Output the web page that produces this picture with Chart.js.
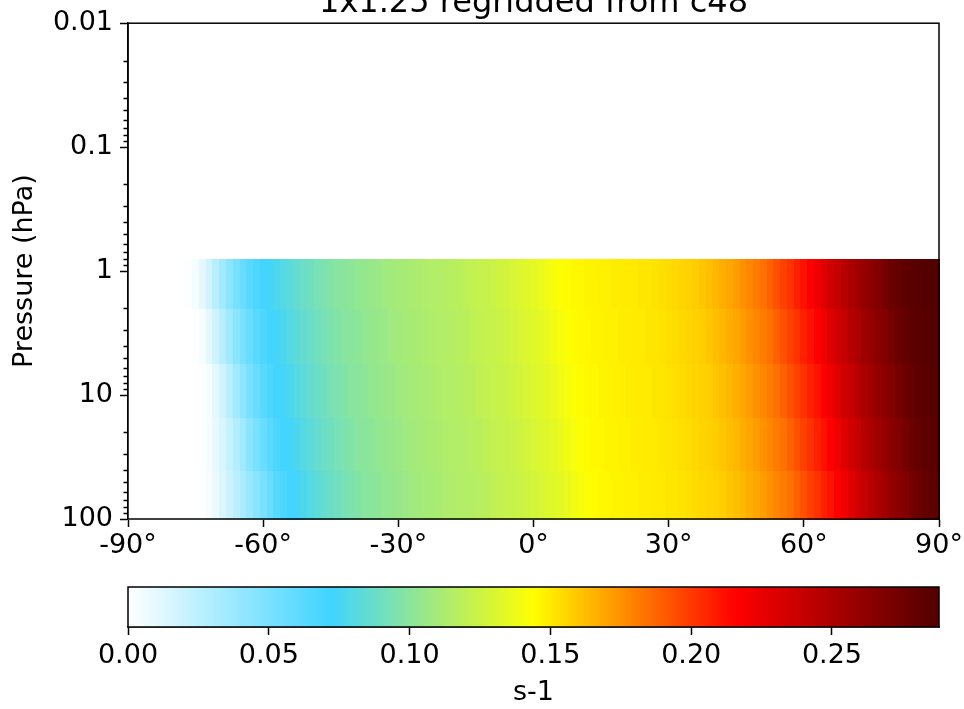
<!DOCTYPE html>
<html>
<head>
<meta charset="utf-8">
<script src="https://cdn.jsdelivr.net/npm/chart.js@4.4.0/dist/chart.umd.min.js"></script>
<style>
  html, body { margin: 0; padding: 0; background: #fff; overflow: hidden; }
  #wrap { position: relative; width: 964px; height: 709px; overflow: hidden; background: #fff; }
  #title { position: absolute; left: 0; width: 1067px; top: -18px; text-align: center;
           font-family: "DejaVu Sans"; font-size: 32px; color: #000; white-space: nowrap; }
  #mainBox { position: absolute; left: 0; top: 0; width: 990px; height: 580px; }
  #barBox { position: absolute; left: 0; top: 564px; width: 964px; height: 149px; }
</style>
</head>
<body>
<div id="wrap">
  <div id="mainBox"><canvas id="mainChart" width="990" height="580"></canvas></div>
  <div id="barBox"><canvas id="barChart" width="964" height="149"></canvas></div>
  <div id="title">1x1.25 regridded from c48</div>
</div>
<script>
// latitude cell centres (deg) and pressure band edges (hPa, bottom to top)
const latCenters = [-90, -88.5, -87, -85.5, -84, -82.5, -81, -79.5, -78, -76.5,
  -75, -73.5, -72, -70.5, -69, -67.5, -66, -64.5, -63, -61.5,
  -60, -58.5, -57, -55.5, -54, -52.5, -51, -49.5, -48, -46.5,
  -45, -43.5, -42, -40.5, -39, -37.5, -36, -34.5, -33, -31.5,
  -30, -28.5, -27, -25.5, -24, -22.5, -21, -19.5, -18, -16.5,
  -15, -13.5, -12, -10.5, -9, -7.5, -6, -4.5, -3, -1.5,
  0, 1.5, 3, 4.5, 6, 7.5, 9, 10.5, 12, 13.5,
  15, 16.5, 18, 19.5, 21, 22.5, 24, 25.5, 27, 28.5,
  30, 31.5, 33, 34.5, 36, 37.5, 39, 40.5, 42, 43.5,
  45, 46.5, 48, 49.5, 51, 52.5, 54, 55.5, 57, 58.5,
  60, 61.5, 63, 64.5, 66, 67.5, 69, 70.5, 72, 73.5,
  75, 76.5, 78, 79.5, 81, 82.5, 84, 85.5, 87, 88.5, 90];
const pressureEdges = [100, 40, 15, 5.5, 2, 0.8];

// rate (s-1) per latitude cell, one list per pressure band
const band100to40 = [0, 0, 0, 0, 0, 0, 0, 0, 0, 0,
  0, 0.001, 0.003, 0.008, 0.014, 0.020, 0.026, 0.032, 0.039, 0.045,
  0.051, 0.057, 0.063, 0.067, 0.071, 0.074, 0.077, 0.080, 0.083, 0.086,
  0.088, 0.091, 0.093, 0.095, 0.097, 0.099, 0.100, 0.101, 0.103, 0.104,
  0.105, 0.106, 0.108, 0.109, 0.110, 0.111, 0.112, 0.113, 0.114, 0.115,
  0.115, 0.116, 0.117, 0.118, 0.120, 0.121, 0.122, 0.123, 0.124, 0.126,
  0.127, 0.129, 0.131, 0.132, 0.134, 0.136, 0.139, 0.141, 0.143, 0.145,
  0.146, 0.146, 0.147, 0.147, 0.148, 0.148, 0.149, 0.149, 0.150, 0.150,
  0.151, 0.151, 0.152, 0.153, 0.154, 0.155, 0.156, 0.157, 0.158, 0.160,
  0.162, 0.164, 0.167, 0.169, 0.172, 0.175, 0.178, 0.181, 0.184, 0.189,
  0.193, 0.198, 0.202, 0.207, 0.211, 0.216, 0.222, 0.229, 0.235, 0.240,
  0.246, 0.251, 0.256, 0.260, 0.264, 0.268, 0.273, 0.277, 0.280, 0.282, 0.284];
const band40to15 = [0, 0, 0, 0, 0, 0, 0, 0, 0, 0,
  0, 0.001, 0.004, 0.009, 0.015, 0.022, 0.029, 0.036, 0.044, 0.051,
  0.057, 0.063, 0.067, 0.071, 0.074, 0.077, 0.080, 0.083, 0.086, 0.088,
  0.091, 0.093, 0.095, 0.097, 0.099, 0.100, 0.101, 0.103, 0.104, 0.105,
  0.106, 0.108, 0.109, 0.110, 0.111, 0.112, 0.113, 0.114, 0.115, 0.115,
  0.116, 0.117, 0.118, 0.120, 0.121, 0.122, 0.123, 0.124, 0.126, 0.127,
  0.129, 0.131, 0.132, 0.134, 0.136, 0.139, 0.141, 0.143, 0.145, 0.146,
  0.146, 0.147, 0.147, 0.148, 0.148, 0.149, 0.149, 0.150, 0.150, 0.151,
  0.151, 0.152, 0.153, 0.154, 0.155, 0.156, 0.157, 0.158, 0.160, 0.162,
  0.164, 0.167, 0.169, 0.172, 0.175, 0.178, 0.181, 0.184, 0.189, 0.193,
  0.198, 0.202, 0.207, 0.211, 0.216, 0.222, 0.229, 0.235, 0.240, 0.246,
  0.251, 0.256, 0.260, 0.264, 0.268, 0.273, 0.277, 0.280, 0.282, 0.284, 0.285];
const band15to5 = [0, 0, 0, 0, 0, 0, 0, 0, 0, 0,
  0, 0.001, 0.004, 0.010, 0.018, 0.027, 0.036, 0.044, 0.051, 0.057,
  0.063, 0.067, 0.071, 0.074, 0.077, 0.080, 0.083, 0.086, 0.088, 0.091,
  0.093, 0.095, 0.097, 0.099, 0.100, 0.101, 0.103, 0.104, 0.105, 0.106,
  0.108, 0.109, 0.110, 0.111, 0.112, 0.113, 0.114, 0.115, 0.115, 0.116,
  0.117, 0.118, 0.120, 0.121, 0.122, 0.123, 0.124, 0.126, 0.127, 0.129,
  0.131, 0.132, 0.134, 0.136, 0.139, 0.141, 0.143, 0.145, 0.146, 0.146,
  0.147, 0.147, 0.148, 0.148, 0.149, 0.149, 0.150, 0.150, 0.151, 0.151,
  0.152, 0.153, 0.154, 0.155, 0.156, 0.157, 0.158, 0.160, 0.162, 0.164,
  0.167, 0.169, 0.172, 0.175, 0.178, 0.181, 0.184, 0.189, 0.193, 0.198,
  0.202, 0.207, 0.211, 0.216, 0.222, 0.229, 0.235, 0.240, 0.246, 0.251,
  0.256, 0.260, 0.264, 0.268, 0.273, 0.277, 0.280, 0.282, 0.284, 0.285, 0.286];
const band5to2 = [0, 0, 0, 0, 0, 0, 0, 0, 0, 0,
  0.001, 0.004, 0.010, 0.018, 0.027, 0.036, 0.044, 0.051, 0.057, 0.063,
  0.067, 0.071, 0.074, 0.077, 0.080, 0.083, 0.086, 0.088, 0.091, 0.093,
  0.095, 0.097, 0.099, 0.100, 0.101, 0.103, 0.104, 0.105, 0.106, 0.108,
  0.109, 0.110, 0.111, 0.112, 0.113, 0.114, 0.115, 0.115, 0.116, 0.117,
  0.118, 0.120, 0.121, 0.122, 0.123, 0.124, 0.126, 0.127, 0.129, 0.131,
  0.132, 0.134, 0.136, 0.139, 0.141, 0.143, 0.145, 0.146, 0.146, 0.147,
  0.147, 0.148, 0.148, 0.149, 0.149, 0.150, 0.150, 0.151, 0.151, 0.152,
  0.153, 0.154, 0.155, 0.156, 0.157, 0.158, 0.160, 0.162, 0.164, 0.167,
  0.169, 0.172, 0.175, 0.178, 0.181, 0.184, 0.189, 0.193, 0.198, 0.202,
  0.207, 0.211, 0.216, 0.222, 0.229, 0.235, 0.240, 0.246, 0.251, 0.256,
  0.260, 0.264, 0.268, 0.273, 0.277, 0.280, 0.282, 0.284, 0.285, 0.286, 0.287];
const band2to08 = [0, 0, 0, 0, 0, 0, 0, 0, 0, 0.001,
  0.004, 0.010, 0.018, 0.027, 0.036, 0.044, 0.051, 0.057, 0.063, 0.067,
  0.071, 0.074, 0.077, 0.080, 0.083, 0.086, 0.088, 0.091, 0.093, 0.095,
  0.097, 0.099, 0.100, 0.101, 0.103, 0.104, 0.105, 0.106, 0.108, 0.109,
  0.110, 0.111, 0.112, 0.113, 0.114, 0.115, 0.115, 0.116, 0.117, 0.118,
  0.120, 0.121, 0.122, 0.123, 0.124, 0.126, 0.127, 0.129, 0.131, 0.132,
  0.134, 0.136, 0.139, 0.141, 0.143, 0.145, 0.146, 0.146, 0.147, 0.147,
  0.148, 0.148, 0.149, 0.149, 0.150, 0.150, 0.151, 0.151, 0.152, 0.153,
  0.154, 0.155, 0.156, 0.157, 0.158, 0.160, 0.162, 0.164, 0.167, 0.169,
  0.172, 0.175, 0.178, 0.181, 0.184, 0.189, 0.193, 0.198, 0.202, 0.207,
  0.211, 0.216, 0.222, 0.229, 0.235, 0.240, 0.246, 0.251, 0.256, 0.260,
  0.264, 0.268, 0.273, 0.277, 0.280, 0.282, 0.284, 0.285, 0.286, 0.287, 0.288];
const bands = [band100to40, band40to15, band15to5, band5to2, band2to08];

// axis ticks
const latTicks = [-90, -60, -30, 0, 30, 60, 90];
const pressureTicks = [0.01, 0.1, 1, 10, 100];
const pressureTickLabels = ['0.01', '0.1', '1', '10', '100'];
const colorbarTicks = [0, 0.05, 0.10, 0.15, 0.20, 0.25];
const colorbarMax = 0.288;

// colormap
const cmapStops = [0, 0.072, 0.144, 0.216, 0.288];
const cmapColors = [[255, 255, 255], [64, 212, 255], [255, 255, 0], [255, 0, 0], [80, 0, 0]];

function colorFor(v) {
    if (v <= cmapStops[0]) return 'rgb(' + cmapColors[0].join(',') + ')';
    for (let i = 1; i < cmapStops.length; i++) {
        if (v <= cmapStops[i]) {
            const t = (v - cmapStops[i - 1]) / (cmapStops[i] - cmapStops[i - 1]);
            const a = cmapColors[i - 1], b = cmapColors[i];
            return 'rgb(' + [0, 1, 2].map(c => Math.round(a[c] + (b[c] - a[c]) * t)).join(',') + ')';
        }
    }
    return 'rgb(' + cmapColors[cmapColors.length - 1].join(',') + ')';
}

// cell edges halfway between centres, clipped to the axis range
const latEdges = [-90];
for (let k = 1; k < latCenters.length; k++) latEdges.push((latCenters[k - 1] + latCenters[k]) / 2);
latEdges.push(90);

const minorPressure = [];
pressureTicks.slice(0, -1).forEach(d => {
    for (let m = 2; m <= 9; m++) minorPressure.push(d * m);
});

Chart.defaults.font.family = 'DejaVu Sans';
Chart.defaults.color = '#000';

const tickFont = { size: 27 };
const axisColor = '#000';

// cell centres kept as the dataset (points hidden, cells drawn by the plugin)
const cells = [];
bands.forEach((row, r) => {
    row.forEach((v, k) => {
        cells.push({ x: latCenters[k], y: Math.sqrt(pressureEdges[r] * pressureEdges[r + 1]), v: v });
    });
});

const heatmapPlugin = {
    id: 'heatmap',
    beforeDatasetsDraw(chart) {
        const { ctx, scales: { x, y } } = chart;
        ctx.save();
        bands.forEach((row, r) => {
            const yA = y.getPixelForValue(pressureEdges[r]);
            const yB = y.getPixelForValue(pressureEdges[r + 1]);
            const top = Math.round(Math.min(yA, yB));
            const bottom = Math.round(Math.max(yA, yB));
            row.forEach((v, k) => {
                const xA = Math.round(x.getPixelForValue(latEdges[k]));
                const xB = Math.round(x.getPixelForValue(latEdges[k + 1]));
                ctx.fillStyle = colorFor(v);
                ctx.fillRect(xA, top, xB - xA + 1, bottom - top + 1);
            });
        });
        ctx.restore();
    },
    afterDraw(chart) {
        const { ctx, chartArea: a, scales: { y } } = chart;
        ctx.save();
        ctx.strokeStyle = axisColor;
        ctx.lineWidth = 1.5;
        ctx.beginPath();
        minorPressure.forEach(p => {
            const py = Math.round(y.getPixelForValue(p)) + 0.5;
            ctx.moveTo(a.left - 4.5, py);
            ctx.lineTo(a.left, py);
        });
        ctx.stroke();
        ctx.strokeRect(a.left, a.top, a.right - a.left, a.bottom - a.top);
        ctx.restore();
    }
};

const mainChart = new Chart(document.getElementById('mainChart'), {
    type: 'scatter',
    data: { datasets: [{ data: cells, pointRadius: 0, pointHoverRadius: 0 }] },
    options: {
        responsive: false,
        animation: false,
        events: [],
        layout: { padding: { top: 21, right: 51, left: 0, bottom: 0 } },
        plugins: { legend: { display: false }, tooltip: { enabled: false } },
        scales: {
            x: {
                type: 'linear', min: -90, max: 90,
                afterBuildTicks: s => { s.ticks = latTicks.map(v => ({ value: v })); },
                afterFit: s => { s.height = 61; },
                ticks: { font: tickFont, color: axisColor, padding: 3, maxRotation: 0, autoSkip: false,
                         callback: v => v + '°' },
                grid: { drawOnChartArea: false, tickLength: 8, tickColor: axisColor, tickWidth: 1.5 },
                border: { color: axisColor, width: 1.5 }
            },
            y: {
                type: 'logarithmic', reverse: true, min: 0.01, max: 100,
                afterBuildTicks: s => { s.ticks = pressureTicks.map(v => ({ value: v, major: true })); },
                afterFit: s => { s.width = 128; },
                ticks: { font: tickFont, color: axisColor, padding: 7, autoSkip: false,
                         callback: v => {
                             const i = pressureTicks.findIndex(p => Math.abs(p - v) / p < 1e-6);
                             return i >= 0 ? pressureTickLabels[i] : '';
                         } },
                grid: { drawOnChartArea: false, tickLength: 8, tickColor: axisColor, tickWidth: 1.5 },
                border: { color: axisColor, width: 1.5 },
                title: { display: true, text: 'Pressure (hPa)', font: { size: 27 }, color: axisColor,
                         padding: { top: 9, bottom: 0 } }
            }
        }
    },
    plugins: [heatmapPlugin]
});

const colorbarPlugin = {
    id: 'colorbar',
    beforeDatasetsDraw(chart) {
        const { ctx, chartArea: a, scales: { x } } = chart;
        const left = x.getPixelForValue(cmapStops[0]);
        const right = x.getPixelForValue(colorbarMax);
        const g = ctx.createLinearGradient(left, 0, right, 0);
        cmapStops.forEach((s, i) => {
            const off = (x.getPixelForValue(s) - left) / (right - left);
            g.addColorStop(Math.min(1, Math.max(0, off)), 'rgb(' + cmapColors[i].join(',') + ')');
        });
        ctx.save();
        ctx.fillStyle = g;
        ctx.fillRect(left, a.top, right - left, a.bottom - a.top);
        ctx.restore();
    },
    afterDraw(chart) {
        const { ctx, chartArea: a } = chart;
        ctx.save();
        ctx.strokeStyle = axisColor;
        ctx.lineWidth = 1.5;
        ctx.strokeRect(a.left, a.top, a.right - a.left, a.bottom - a.top);
        ctx.restore();
    }
};

const barChart = new Chart(document.getElementById('barChart'), {
    type: 'scatter',
    data: { datasets: [{ data: [], pointRadius: 0 }] },
    options: {
        responsive: false,
        animation: false,
        events: [],
        layout: { padding: { top: 23, right: 25, left: 128, bottom: 0 } },
        plugins: { legend: { display: false }, tooltip: { enabled: false } },
        scales: {
            x: {
                type: 'linear', min: 0, max: colorbarMax,
                afterBuildTicks: s => { s.ticks = colorbarTicks.map(v => ({ value: v })); },
                afterFit: s => { s.height = 86; },
                ticks: { font: tickFont, color: axisColor, padding: 5, maxRotation: 0, autoSkip: false,
                         callback: v => Number(v).toFixed(2) },
                grid: { drawOnChartArea: false, tickLength: 8, tickColor: axisColor, tickWidth: 1.5 },
                border: { color: axisColor, width: 1.5 },
                title: { display: true, text: 's-1', font: { size: 27 }, color: axisColor,
                         padding: { top: 0, bottom: 4 } }
            },
            y: { display: false, min: 0, max: 1 }
        }
    },
    plugins: [colorbarPlugin]
});
</script>
</body>
</html>
